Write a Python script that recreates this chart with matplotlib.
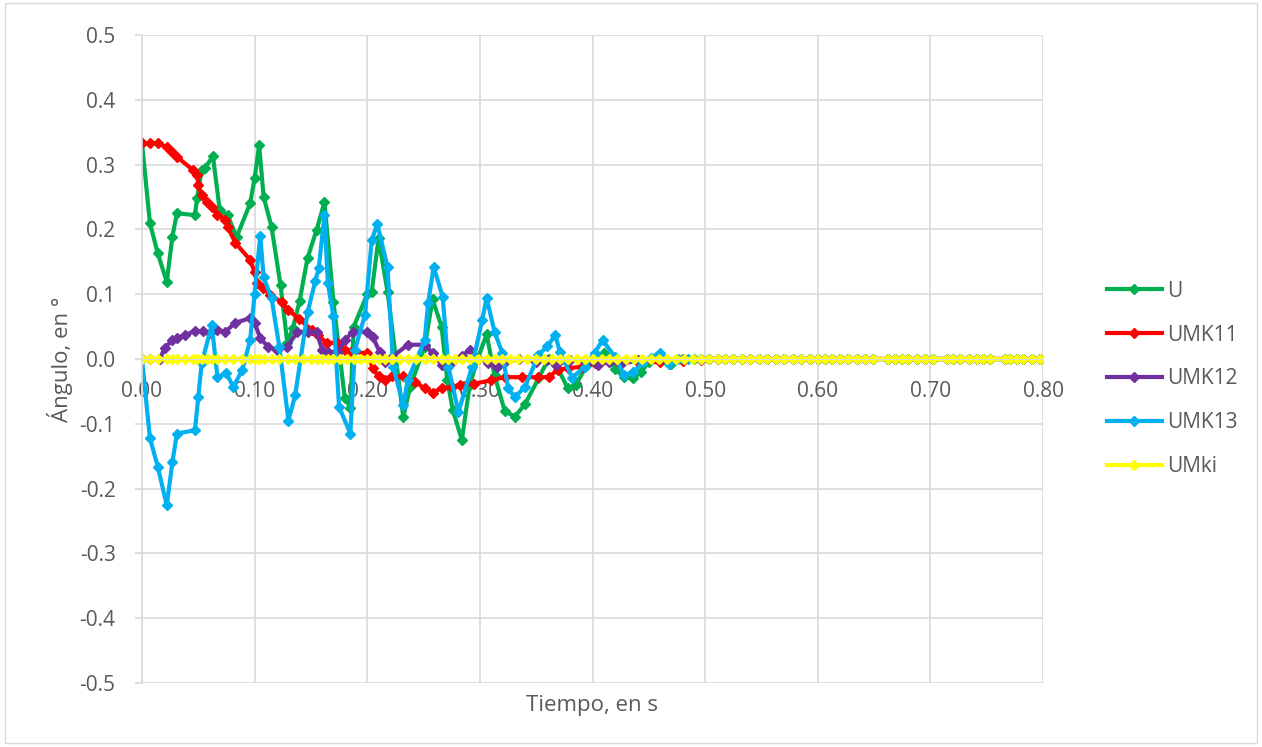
import matplotlib
matplotlib.use("Agg")
import matplotlib.pyplot as plt
from matplotlib.patches import Rectangle

# Tramo final común (todas las series ~ 0)
t_cola = [0.503, 0.511, 0.518, 0.525, 0.533, 0.540, 0.548, 0.555, 0.563, 0.570,
          0.578, 0.585, 0.593, 0.600, 0.606, 0.613, 0.620, 0.627, 0.635, 0.642,
          0.649, 0.662, 0.669, 0.675, 0.680, 0.688, 0.695, 0.702, 0.715, 0.720,
          0.726, 0.734, 0.741, 0.747, 0.753, 0.766, 0.771, 0.777, 0.782, 0.790, 0.797]
v_cola = [0.0, 0.0, 0.0, 0.0, 0.0, 0.0, 0.0, 0.0, 0.0, 0.0,
          0.0, 0.0, 0.0, 0.0, 0.0, 0.0, 0.0, 0.0, 0.0, 0.0,
          0.0, 0.0, 0.0, 0.0, 0.0, 0.0, 0.0, 0.0, 0.0, 0.0,
          0.0, 0.0, 0.0, 0.0, 0.0, 0.0, 0.0, 0.0, 0.0, 0.0, 0.0]

# U
t_u = [0.000, 0.007, 0.014, 0.022, 0.027, 0.031, 0.047, 0.049, 0.053, 0.056,
       0.063, 0.069, 0.076, 0.084, 0.096, 0.100, 0.104, 0.108, 0.115, 0.123,
       0.129, 0.134, 0.140, 0.147, 0.155, 0.162, 0.170, 0.180, 0.185, 0.188,
       0.200, 0.204, 0.210, 0.218, 0.232, 0.238, 0.251, 0.258, 0.266, 0.271,
       0.276, 0.284, 0.291, 0.298, 0.306, 0.313, 0.322, 0.331, 0.340, 0.352,
       0.361, 0.368, 0.378, 0.385, 0.395, 0.402, 0.410, 0.420, 0.428, 0.436,
       0.443, 0.450, 0.460, 0.470, 0.480, 0.490, 0.496]
v_u = [0.333, 0.210, 0.163, 0.119, 0.189, 0.225, 0.222, 0.249, 0.292, 0.295,
       0.313, 0.230, 0.222, 0.188, 0.240, 0.279, 0.330, 0.250, 0.204, 0.114,
       0.025, 0.048, 0.090, 0.156, 0.199, 0.242, 0.088, -0.060, -0.075, 0.050,
       0.100, 0.104, 0.186, 0.104, -0.090, -0.043, 0.019, 0.092, 0.050, -0.032,
       -0.079, -0.125, -0.040, 0.000, 0.038, -0.025, -0.080, -0.089, -0.070, -0.030,
       0.000, -0.010, -0.045, -0.040, -0.010, 0.000, 0.010, -0.015, -0.028, -0.030,
       -0.020, -0.005, 0.005, -0.008, 0.000, 0.000, 0.000]

# UMK11
t_11 = [0.000, 0.007, 0.014, 0.022, 0.027, 0.031, 0.045, 0.049, 0.050, 0.053,
        0.058, 0.062, 0.067, 0.074, 0.076, 0.083, 0.096, 0.100, 0.102, 0.107,
        0.114, 0.124, 0.130, 0.139, 0.151, 0.156, 0.164, 0.173, 0.180, 0.186,
        0.200, 0.205, 0.210, 0.216, 0.222, 0.232, 0.242, 0.251, 0.258, 0.266,
        0.275, 0.282, 0.295, 0.310, 0.322, 0.337, 0.352, 0.361, 0.369, 0.378,
        0.391, 0.402, 0.423, 0.440, 0.460, 0.480, 0.496]
v_11 = [0.333, 0.333, 0.333, 0.327, 0.319, 0.312, 0.292, 0.284, 0.268, 0.253,
        0.243, 0.235, 0.222, 0.215, 0.204, 0.179, 0.153, 0.134, 0.117, 0.110,
        0.099, 0.088, 0.076, 0.062, 0.045, 0.037, 0.025, 0.025, 0.014, 0.011,
        0.009, -0.014, -0.027, -0.032, -0.027, -0.027, -0.035, -0.045, -0.052, -0.045,
        -0.043, -0.040, -0.038, -0.033, -0.028, -0.028, -0.028, -0.028, -0.017, -0.014,
        -0.012, -0.006, -0.004, -0.004, -0.005, -0.003, -0.001]

# UMK12
t_12 = [0.000, 0.007, 0.016, 0.020, 0.027, 0.031, 0.038, 0.047, 0.054, 0.060,
        0.067, 0.074, 0.083, 0.096, 0.100, 0.105, 0.112, 0.120, 0.129, 0.138,
        0.147, 0.155, 0.160, 0.165, 0.174, 0.180, 0.187, 0.200, 0.205, 0.211,
        0.216, 0.222, 0.236, 0.251, 0.258, 0.266, 0.275, 0.284, 0.291, 0.307,
        0.315, 0.322, 0.335, 0.350, 0.360, 0.368, 0.380, 0.395, 0.405, 0.415,
        0.425, 0.440, 0.460, 0.480, 0.496]
v_12 = [0.000, 0.000, 0.000, 0.017, 0.029, 0.032, 0.037, 0.043, 0.043, 0.040,
        0.045, 0.042, 0.056, 0.063, 0.056, 0.032, 0.019, 0.014, 0.019, 0.042,
        0.042, 0.042, 0.014, 0.011, 0.011, 0.029, 0.042, 0.042, 0.034, 0.011,
        -0.005, 0.003, 0.022, 0.022, 0.009, -0.009, -0.005, 0.005, 0.014, -0.006,
        -0.012, -0.005, 0.000, -0.004, -0.002, -0.009, -0.002, -0.004, -0.010, -0.004,
        -0.008, -0.002, 0.000, 0.000, 0.000]

# UMK13
t_13 = [0.000, 0.007, 0.014, 0.022, 0.027, 0.031, 0.047, 0.050, 0.053, 0.062,
        0.067, 0.075, 0.081, 0.089, 0.096, 0.100, 0.105, 0.108, 0.115, 0.122,
        0.130, 0.136, 0.147, 0.154, 0.157, 0.162, 0.165, 0.170, 0.175, 0.185,
        0.189, 0.198, 0.204, 0.209, 0.218, 0.223, 0.232, 0.236, 0.251, 0.254,
        0.259, 0.267, 0.272, 0.281, 0.293, 0.302, 0.306, 0.313, 0.320, 0.325,
        0.331, 0.340, 0.352, 0.360, 0.367, 0.371, 0.382, 0.393, 0.402, 0.409,
        0.420, 0.428, 0.436, 0.445, 0.452, 0.460, 0.468, 0.476, 0.485, 0.496]
v_13 = [0.000, -0.122, -0.166, -0.226, -0.159, -0.115, -0.110, -0.058, -0.006, 0.052,
        -0.028, -0.022, -0.043, -0.017, 0.029, 0.101, 0.190, 0.126, 0.094, 0.018,
        -0.095, -0.056, 0.072, 0.121, 0.141, 0.222, 0.117, 0.066, -0.074, -0.115,
        0.014, 0.068, 0.184, 0.208, 0.142, -0.012, -0.071, -0.032, 0.029, 0.086,
        0.142, 0.096, -0.012, -0.082, -0.012, 0.060, 0.094, 0.042, 0.009, -0.045,
        -0.059, -0.043, 0.006, 0.020, 0.037, 0.011, -0.029, -0.012, 0.010, 0.029,
        0.003, -0.025, -0.020, -0.005, 0.002, 0.010, -0.008, 0.000, 0.000, 0.000]

# UMki
t_ki = [0.000, 0.007, 0.014, 0.022, 0.027, 0.031, 0.038, 0.045, 0.049, 0.053,
        0.058, 0.062, 0.067, 0.074, 0.081, 0.089, 0.096, 0.100, 0.104, 0.108,
        0.115, 0.122, 0.130, 0.136, 0.143, 0.150, 0.155, 0.160, 0.165, 0.170,
        0.176, 0.182, 0.188, 0.194, 0.200, 0.205, 0.210, 0.216, 0.222, 0.229,
        0.236, 0.243, 0.251, 0.258, 0.266, 0.272, 0.278, 0.284, 0.291, 0.298,
        0.306, 0.313, 0.320, 0.327, 0.334, 0.342, 0.350, 0.357, 0.364, 0.371,
        0.378, 0.386, 0.393, 0.400, 0.408, 0.415, 0.422, 0.430, 0.437, 0.444,
        0.452, 0.459, 0.466, 0.474, 0.481, 0.489, 0.496]
v_ki = [0.0, 0.0, 0.0, 0.0, 0.0, 0.0, 0.0, 0.0, 0.0, 0.0,
        0.0, 0.0, 0.0, 0.0, 0.0, 0.0, 0.0, 0.0, 0.0, 0.0,
        0.0, 0.0, 0.0, 0.0, 0.0, 0.0, 0.0, 0.0, 0.0, 0.0,
        0.0, 0.0, 0.0, 0.0, 0.0, 0.0, 0.0, 0.0, 0.0, 0.0,
        0.0, 0.0, 0.0, 0.0, 0.0, 0.0, 0.0, 0.0, 0.0, 0.0,
        0.0, 0.0, 0.0, 0.0, 0.0, 0.0, 0.0, 0.0, 0.0, 0.0,
        0.0, 0.0, 0.0, 0.0, 0.0, 0.0, 0.0, 0.0, 0.0, 0.0,
        0.0, 0.0, 0.0, 0.0, 0.0, 0.0, 0.0]

series = [
    ("U", t_u, v_u, "#00B050"),
    ("UMK11", t_11, v_11, "#FF0000"),
    ("UMK12", t_12, v_12, "#7030A0"),
    ("UMK13", t_13, v_13, "#00B0F0"),
    ("UMki", t_ki, v_ki, "#FFFF00"),
]

x_ticks = [0.0, 0.1, 0.2, 0.3, 0.4, 0.5, 0.6, 0.7, 0.8]
y_ticks = [-0.5, -0.4, -0.3, -0.2, -0.1, 0.0, 0.1, 0.2, 0.3, 0.4, 0.5]

gris_texto = "#595959"
gris_malla = "#D9D9D9"
plt.rcParams["font.family"] = ["Open Sans", "DejaVu Sans"]

fig = plt.figure(figsize=(12.62, 7.47), dpi=100)
ax = fig.add_axes([142 / 1262, 1 - 683 / 747, 901 / 1262, 648 / 747])

for nombre, t, v, color in series:
    ax.plot(t + t_cola, v + v_cola, color=color, lw=3, marker="D", ms=5,
            mec=color, mfc=color, label=nombre, solid_joinstyle="round")

ax.set_xlim(0, 0.8)
ax.set_ylim(-0.5, 0.5)
ax.set_xticks(x_ticks)
ax.set_yticks(y_ticks)
ax.set_xticklabels([f"{x:.2f}" for x in x_ticks])
ax.set_yticklabels([f"{y:.1f}" for y in y_ticks])
ax.grid(True, color=gris_malla, lw=1.2)
ax.set_axisbelow(True)

for lado in ["top", "right"]:
    ax.spines[lado].set_visible(False)
ax.spines["left"].set_color(gris_malla)
ax.spines["left"].set_linewidth(1.2)
ax.spines["bottom"].set_position(("data", 0))
ax.spines["bottom"].set_color(gris_malla)
ax.tick_params(axis="x", length=0, pad=16, labelsize=15, labelcolor=gris_texto)
ax.tick_params(axis="y", length=5, width=1.2, color=gris_malla, pad=14,
               labelsize=15, labelcolor=gris_texto)

fig.text(592 / 1262, 1 - 705 / 747, "Tiempo, en s", ha="center", va="center",
         fontsize=16, color=gris_texto)
fig.text(60 / 1262, 1 - 359 / 747, "Ángulo, en °", ha="center", va="center",
         rotation=90, fontsize=16, color=gris_texto)

fig.legend(loc="center left", bbox_to_anchor=(1088 / 1262, 1 - 379 / 747),
           frameon=False, fontsize=15, labelcolor=gris_texto, labelspacing=1.1,
           handlelength=2.65, handletextpad=0.25, markerscale=1.0)

fig.patches.append(Rectangle((0.004, 0.006), 0.992, 0.99, transform=fig.transFigure,
                             fill=False, edgecolor=gris_malla, lw=1))

fig.savefig("out.png", dpi=100)
